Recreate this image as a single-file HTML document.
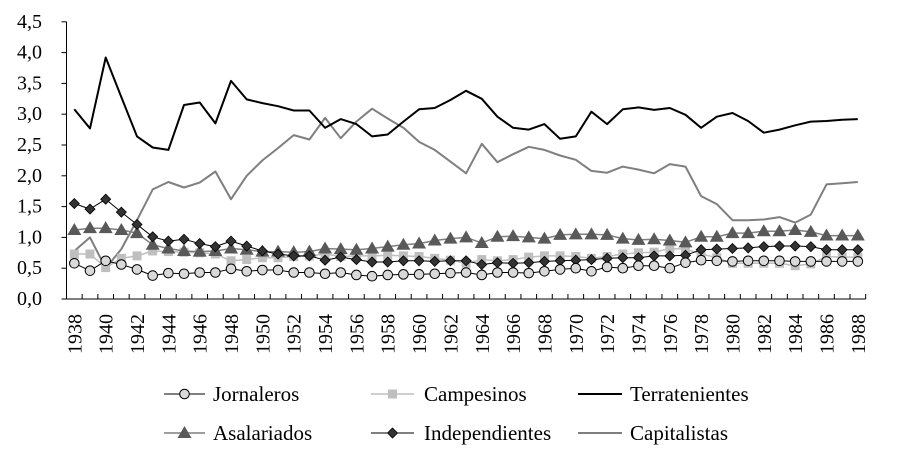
<!DOCTYPE html>
<html><head><meta charset="utf-8"><style>
html,body{margin:0;padding:0;background:#fff;}
svg{display:block;font-family:"Liberation Serif",serif;}
</style></head><body>
<svg id="chart" width="910" height="456" viewBox="0 0 910 456" xmlns="http://www.w3.org/2000/svg">
<g id="axes"></g>
<g id="series"></g>
<g id="legend"></g>
</svg>
<script>
const years = [];
for (let y = 1938; y <= 1988; y++) years.push(y);
const yTicks = [0,0.5,1,1.5,2,2.5,3,3.5,4,4.5];
const yTickLabels = ["0,0","0,5","1,0","1,5","2,0","2,5","3,0","3,5","4,0","4,5"];
const jornaleros = [0.58,0.46,0.62,0.56,0.48,0.38,0.42,0.41,0.43,0.43,0.49,0.45,0.47,0.47,0.43,0.43,0.41,0.43,0.39,0.37,0.39,0.40,0.40,0.41,0.42,0.43,0.39,0.43,0.43,0.42,0.45,0.48,0.50,0.45,0.52,0.50,0.54,0.54,0.50,0.59,0.63,0.62,0.61,0.62,0.62,0.62,0.61,0.61,0.61,0.61,0.61];
const campesinos = [0.73,0.73,0.51,0.66,0.70,0.78,0.77,0.76,0.75,0.73,0.62,0.64,0.67,0.67,0.69,0.70,0.73,0.69,0.70,0.70,0.71,0.70,0.69,0.66,0.63,0.58,0.64,0.62,0.64,0.68,0.70,0.70,0.69,0.66,0.69,0.73,0.75,0.76,0.82,0.81,0.73,0.67,0.58,0.58,0.58,0.58,0.54,0.57,0.69,0.68,0.68];
const terratenientes = [3.08,2.77,3.92,3.28,2.64,2.46,2.42,3.15,3.19,2.85,3.54,3.24,3.18,3.13,3.06,3.06,2.78,2.92,2.84,2.64,2.67,2.88,3.08,3.10,3.23,3.38,3.25,2.96,2.78,2.75,2.84,2.60,2.64,3.04,2.84,3.08,3.11,3.07,3.10,2.99,2.78,2.96,3.02,2.89,2.70,2.75,2.82,2.88,2.89,2.91,2.92];
const asalariados = [1.12,1.15,1.15,1.12,1.07,0.88,0.82,0.78,0.77,0.78,0.82,0.80,0.77,0.77,0.76,0.77,0.82,0.81,0.80,0.82,0.85,0.88,0.90,0.95,0.98,1.00,0.91,1.01,1.02,1.00,0.98,1.04,1.05,1.05,1.04,0.98,0.96,0.97,0.95,0.92,1.01,1.01,1.07,1.07,1.10,1.10,1.12,1.09,1.03,1.03,1.03];
const independientes = [1.55,1.46,1.62,1.41,1.21,1.01,0.94,0.97,0.90,0.85,0.94,0.86,0.78,0.73,0.70,0.70,0.63,0.68,0.64,0.60,0.60,0.62,0.62,0.61,0.62,0.62,0.56,0.59,0.58,0.59,0.61,0.62,0.63,0.64,0.66,0.67,0.67,0.70,0.70,0.71,0.80,0.81,0.82,0.83,0.85,0.86,0.86,0.85,0.80,0.80,0.80];
const capitalistas = [0.78,1.00,0.50,0.81,1.28,1.78,1.90,1.81,1.89,2.07,1.62,2.00,2.25,2.45,2.66,2.59,2.94,2.61,2.88,3.09,2.93,2.78,2.55,2.42,2.23,2.04,2.52,2.22,2.35,2.47,2.42,2.33,2.26,2.08,2.05,2.15,2.10,2.04,2.19,2.15,1.67,1.54,1.28,1.28,1.29,1.33,1.24,1.37,1.86,1.88,1.90];

const NS = "http://www.w3.org/2000/svg";
const X0 = 66.5, STEP = 15.67, Y0 = 299, PX = 61.6;
function xScale(i){ return X0 + STEP*(i+0.5); }
function yScale(v){ return Y0 - v*PX; }
function mk(tag, attrs, parent){ const e=document.createElementNS(NS,tag); for(const k in attrs) e.setAttribute(k,attrs[k]); parent.appendChild(e); return e; }

const axes = document.getElementById('axes');
const xEnd = X0 + STEP*years.length;
let a = mk('line',{x1:X0,y1:Y0,x2:xEnd,y2:Y0,stroke:'#000','stroke-width':1},axes);


a = mk('line',{x1:X0,y1:Y0,x2:X0,y2:yScale(4.5),stroke:'#000','stroke-width':1},axes);


yTicks.forEach((v,i)=>{
  const t = mk('line',{x1:X0-5,y1:yScale(v),x2:X0,y2:yScale(v),stroke:'#000'},axes);
  
  
  const l = mk('text',{x:42,y:yScale(v)+6,'text-anchor':'end','font-size':'20px',fill:'#000'},axes);
  l.textContent = yTickLabels[i];
  
  
});
for(let i=0;i<=years.length;i++){
  const x = X0+STEP*i;
  const t = mk('line',{x1:x,y1:Y0,x2:x,y2:Y0-5,stroke:'#000'},axes);
  
  
}
years.forEach((yr,i)=>{
  if(i%2!==0) return;
  const x = xScale(i)+7;
  const l = mk('text',{x:x,y:314,'text-anchor':'end','font-size':'20px',transform:`rotate(-90 ${x} 314)`},axes);
  l.textContent = yr;
  
  
});

function marker(type, cx, cy, parent){
  let m;
  if(type==='circle') m = mk('circle',{cx,cy,r:4.8,fill:'#d9d9d9',stroke:'#000','stroke-width':1},parent);
  else if(type==='square') m = mk('rect',{x:cx-4.5,y:cy-4.5,width:9,height:9,fill:'#bfbfbf'},parent);
  else if(type==='triangle') m = mk('polygon',{points:`${cx},${cy-7} ${cx+7},${cy+5} ${cx-7},${cy+5}`,fill:'#595959'},parent);
  else if(type==='diamond') m = mk('polygon',{points:`${cx},${cy-5} ${cx+5},${cy} ${cx},${cy+5} ${cx-5},${cy}`,fill:'#333',stroke:'#000','stroke-width':0.8},parent);
  return m;
}

const seriesDefs = [
  {name:'capitalistas', data:capitalistas, color:'#7f7f7f', w:2, m:null},
  {name:'terratenientes', data:terratenientes, color:'#000', w:2, m:null},
  {name:'campesinos', data:campesinos, color:'#bfbfbf', w:1.5, m:'square'},
  {name:'asalariados', data:asalariados, color:'#7f7f7f', w:1.5, m:'triangle'},
  {name:'independientes', data:independientes, color:'#000', w:1, m:'diamond'},
  {name:'jornaleros', data:jornaleros, color:'#000', w:1, m:'circle'}
];
const sg = document.getElementById('series');
seriesDefs.forEach(s=>{
  const g = mk('g',{},sg);
  
  
  const pts = s.data.map((v,i)=>xScale(i).toFixed(1)+','+yScale(v).toFixed(1)).join(' ');
  const pl = mk('polyline',{points:pts,fill:'none',stroke:s.color,'stroke-width':s.w,'stroke-linejoin':'round'},g);
  
  
  if(s.m){
    s.data.forEach((v,i)=>{
      const m = marker(s.m,xScale(i),yScale(v),g);
      
      
    });
  }
});

const legendItems = [
  {label:'Jornaleros', color:'#000', w:1, m:'circle', x1:164, x2:205, tx:213, y:394},
  {label:'Campesinos', color:'#bfbfbf', w:1.5, m:'square', x1:371, x2:414, tx:424, y:394},
  {label:'Terratenientes', color:'#000', w:2, m:null, x1:578, x2:622, tx:630, y:394},
  {label:'Asalariados', color:'#7f7f7f', w:1.5, m:'triangle', x1:164, x2:205, tx:213, y:433},
  {label:'Independientes', color:'#000', w:1, m:'diamond', x1:371, x2:414, tx:424, y:433},
  {label:'Capitalistas', color:'#7f7f7f', w:2, m:null, x1:578, x2:622, tx:630, y:433}
];
const lg = document.getElementById('legend');
legendItems.forEach(it=>{
  const g = mk('g',{},lg);
  
  
  mk('line',{x1:it.x1,y1:it.y,x2:it.x2,y2:it.y,stroke:it.color,'stroke-width':it.w},g);
  if(it.m) marker(it.m,(it.x1+it.x2)/2,it.y,g);
  const t = mk('text',{x:it.tx,y:it.y+7,'font-size':'21px'},g);
  t.textContent = it.label;
});
</script>
</body></html>
